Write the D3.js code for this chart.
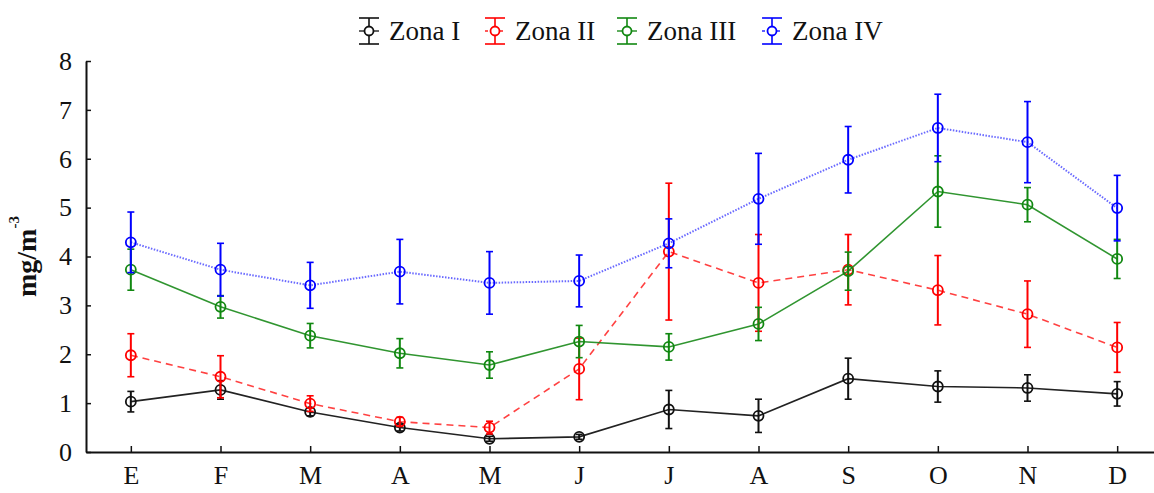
<!DOCTYPE html>
<html>
<head>
<meta charset="utf-8">
<script src="https://cdn.jsdelivr.net/npm/d3@7"></script>
<style>
  html, body { margin: 0; padding: 0; background: #fff; }
  svg { display: block; font-family: "Liberation Serif", "Times New Roman", serif; }
</style>
</head>
<body>
<svg id="chart" width="1154" height="493"></svg>
<script>
// ---- data ----
const months = ["E", "F", "M", "A", "M", "J", "J", "A", "S", "O", "N", "D"];
const seriesNames = ["Zona I", "Zona II", "Zona III", "Zona IV"];
const zona1 = [1.03, 1.27, 0.82, 0.50, 0.27, 0.31, 0.87, 0.74, 1.50, 1.34, 1.31, 1.19];
const zona1Err = [0.21, 0.19, 0.08, 0.07, 0.05, 0.05, 0.39, 0.34, 0.42, 0.32, 0.27, 0.25];
const zona2 = [1.98, 1.54, 0.99, 0.62, 0.50, 1.70, 4.10, 3.46, 3.73, 3.31, 2.82, 2.14];
const zona2Err = [0.44, 0.43, 0.16, 0.09, 0.13, 0.63, 1.40, 0.99, 0.72, 0.71, 0.68, 0.51];
const zona3 = [3.73, 2.97, 2.38, 2.02, 1.78, 2.26, 2.15, 2.62, 3.70, 5.33, 5.06, 3.95];
const zona3Err = [0.42, 0.23, 0.25, 0.30, 0.27, 0.33, 0.27, 0.34, 0.39, 0.73, 0.35, 0.40];
const zona4 = [4.29, 3.73, 3.41, 3.69, 3.46, 3.50, 4.27, 5.18, 5.98, 6.63, 6.34, 4.99];
const zona4Err = [0.62, 0.54, 0.47, 0.66, 0.64, 0.53, 0.50, 0.93, 0.68, 0.69, 0.83, 0.67];
const yTicks = [0, 1, 2, 3, 4, 5, 6, 7, 8];

const series = [
  { name: seriesNames[0], values: zona1, err: zona1Err, color: "#111111", dash: null, lineColor: "#222222", lineOpacity: 1 },
  { name: seriesNames[1], values: zona2, err: zona2Err, color: "#ff0000", dash: "7,5", lineColor: "#ff2020", lineOpacity: 0.85 },
  { name: seriesNames[2], values: zona3, err: zona3Err, color: "#118811", dash: null, lineColor: "#1a8a1a", lineOpacity: 0.9 },
  { name: seriesNames[3], values: zona4, err: zona4Err, color: "#0000ff", dash: "1.5,1.5", lineColor: "#2a2aff", lineOpacity: 0.7 }
];

// ---- layout ----
const svg = d3.select("#chart");
const xLeft = 86, xRight = 1162, yBottom = 452, yTop = 61;

const x = d3.scalePoint().domain(d3.range(months.length)).range([xLeft, xRight]).padding(0.5);
const y = d3.scaleLinear().domain([0, 8]).range([yBottom, yTop]);

// axes
const xAxis = d3.axisBottom(x).tickSize(-6).tickSizeOuter(0).tickPadding(14)
  .tickFormat(i => months[i]);
const gx = svg.append("g").attr("transform", `translate(0,${yBottom})`).call(xAxis);
gx.select(".domain").attr("stroke", "#111").attr("stroke-width", 2);
gx.selectAll(".tick line").attr("stroke", "#111").attr("stroke-width", 1.5);
gx.selectAll(".tick text").attr("font-size", 26).attr("fill", "#111")
  .attr("font-family", "'Liberation Serif', 'Times New Roman', serif");

const yAxis = d3.axisLeft(y).tickValues(yTicks).tickSize(-5).tickSizeOuter(0).tickPadding(14)
  .tickFormat(d3.format("d"));
const gy = svg.append("g").attr("transform", `translate(${xLeft},0)`).call(yAxis);
gy.select(".domain").attr("stroke", "#111").attr("stroke-width", 2);
gy.selectAll(".tick line").attr("stroke", "#111").attr("stroke-width", 1.5);
gy.selectAll(".tick text").attr("font-size", 26).attr("fill", "#111")
  .attr("font-family", "'Liberation Serif', 'Times New Roman', serif");

// y label
const yl = svg.append("text")
  .attr("transform", "translate(36,297) rotate(-90)")
  .attr("text-anchor", "start")
  .attr("font-size", 28).attr("font-weight", "bold").attr("fill", "#111");
yl.append("tspan").text("mg/m");
yl.append("tspan").attr("dy", -17).attr("font-size", 15).text("-3");

// series
const line = d3.line().x((d, i) => x(i)).y(d => y(d));
const capW = 3.5, r = 5;

series.forEach(s => {
  const g = svg.append("g");
  g.append("path")
    .attr("d", line(s.values))
    .attr("fill", "none")
    .attr("stroke", s.lineColor)
    .attr("stroke-opacity", s.lineOpacity)
    .attr("stroke-width", s.dash === "1.5,1.5" ? 2 : 1.6)
    .attr("stroke-dasharray", s.dash);
  s.values.forEach((v, i) => {
    const cx = x(i);
    const lo = y(v - s.err[i]), hi = y(v + s.err[i]);
    g.append("line").attr("x1", cx).attr("x2", cx).attr("y1", lo).attr("y2", hi)
      .attr("stroke", s.color).attr("stroke-width", 2);
    g.append("line").attr("x1", cx - capW).attr("x2", cx + capW).attr("y1", lo).attr("y2", lo)
      .attr("stroke", s.color).attr("stroke-width", 1.6);
    g.append("line").attr("x1", cx - capW).attr("x2", cx + capW).attr("y1", hi).attr("y2", hi)
      .attr("stroke", s.color).attr("stroke-width", 1.6);
    g.append("circle").attr("cx", cx).attr("cy", y(v)).attr("r", r)
      .attr("fill", "none").attr("stroke", s.color).attr("stroke-width", 1.8);
  });
});

// legend
const legendIconX = [369, 495, 627, 772];
const legY = 31;
series.forEach((s, k) => {
  const g = svg.append("g").attr("transform", `translate(${legendIconX[k]},${legY})`);
  g.append("line").attr("x1", 0).attr("x2", 0).attr("y1", -13).attr("y2", 13)
    .attr("stroke", s.color).attr("stroke-width", 1.6);
  g.append("line").attr("x1", -10).attr("x2", 10).attr("y1", -13).attr("y2", -13)
    .attr("stroke", s.color).attr("stroke-width", 1.6);
  g.append("line").attr("x1", -10).attr("x2", 10).attr("y1", 13).attr("y2", 13)
    .attr("stroke", s.color).attr("stroke-width", 1.6);
  g.append("line").attr("x1", -10).attr("x2", 10).attr("y1", 0).attr("y2", 0)
    .attr("stroke", s.lineColor).attr("stroke-width", 1.4).attr("stroke-dasharray", s.dash ? "3,2" : null);
  g.append("circle").attr("r", 4.5).attr("fill", "#fff").attr("stroke", s.color).attr("stroke-width", 1.8);
  g.append("text").attr("x", 20).attr("y", 9).attr("font-size", 27).attr("fill", "#111")
    .text(s.name);
});
</script>
</body>
</html>
